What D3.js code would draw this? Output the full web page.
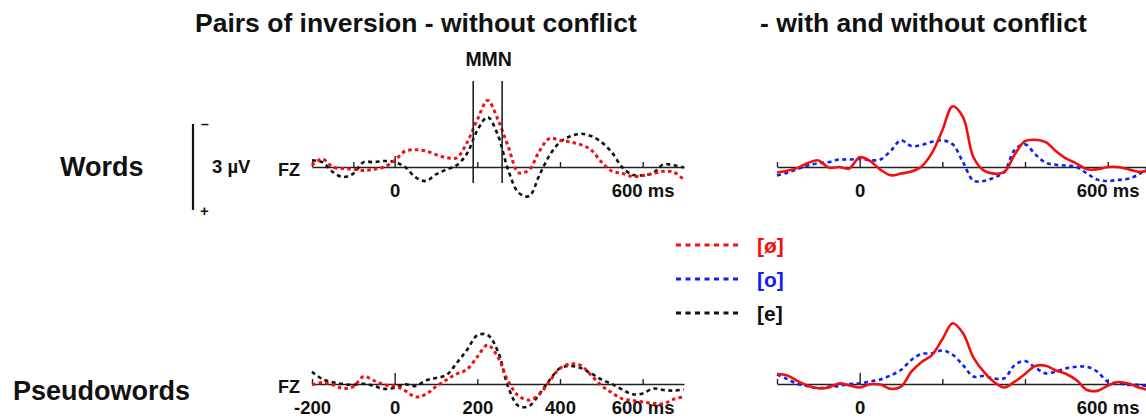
<!DOCTYPE html>
<html>
<head>
<meta charset="utf-8">
<script src="https://cdn.jsdelivr.net/npm/d3@7"></script>
<style>
body { margin: 0; background: #fff; }
svg { display: block; font-family: "Liberation Sans", Arial, sans-serif; font-weight: bold; }
</style>
</head>
<body>
<svg width="1146" height="419"></svg>
<script>
// time points (ms) shared by every waveform
var ms = [-200, -175, -150, -125, -100, -75, -50, -25, 0, 25, 50, 75, 100, 125, 150, 175, 200, 225, 250,
          275, 300, 325, 350, 375, 400, 425, 450, 475, 500, 525, 550, 575, 600, 625, 650, 675, 700];

// amplitudes in µV (negative plotted up)
// Words, pairs of inversion without conflict
var wordsOe = [-0.06, -0.28, 0.0, 0.05, 0.08, 0.12, 0.08, 0.0, -0.23, -0.55, -0.6, -0.56, -0.43, -0.33, -0.32, -0.85, -1.65, -2.32, -1.65,
               -0.7, 0.2, 0.1, -0.55, -1.0, -0.93, -0.87, -0.78, -0.6, -0.18, 0.14, 0.22, 0.33, 0.3, 0.23, 0.15, 0.18, 0.45];
var wordsE = [-0.23, -0.17, 0.17, 0.35, 0.23, -0.17, -0.17, -0.21, -0.17, 0.0, 0.35, 0.49, 0.26, 0.09, -0.06, -0.47, -1.28, -1.74, -1.1,
              0.12, 0.9, 1.02, 0.29, -0.41, -0.87, -1.07, -1.16, -1.08, -0.87, -0.52, 0.0, 0.27, 0.29, 0.21, -0.09, -0.06, 0.02];
// Words, with and without conflict
var wordsConflictOe = [0.19, 0.13, 0.03, -0.14, -0.23, 0.02, 0.0, 0.05, -0.34, -0.21, 0.09, 0.29, 0.23, 0.16, -0.02, -0.49, -1.28, -2.12, -1.74,
                       -0.35, 0.12, 0.23, 0.17, -0.43, -0.9, -0.95, -0.87, -0.55, -0.29, -0.12, 0.08, 0.08, 0.0, 0.0, 0.08, 0.17, 0.12];
var wordsO = [0.3, 0.2, 0.07, -0.05, -0.13, -0.17, -0.26, -0.26, -0.28, -0.24, -0.26, -0.56, -0.93, -0.73, -0.77, -0.88, -0.93, -0.79, -0.17,
              0.47, 0.49, 0.37, 0.17, -0.6, -0.79, -0.44, -0.15, -0.08, -0.05, 0.0, 0.23, 0.44, 0.49, 0.45, 0.41, 0.26, 0.0];
// Pseudowords, pairs of inversion without conflict
var pseudoOe = [0.03, -0.05, 0.03, 0.15, 0.09, -0.26, -0.12, 0.03, 0.07, 0.23, 0.45, 0.36, 0.09, -0.14, -0.35, -0.51, -0.95, -1.36, -0.93,
                -0.08, 0.42, 0.56, 0.36, -0.1, -0.55, -0.7, -0.65, -0.31, 0.05, 0.3, 0.51, 0.57, 0.63, 0.67, 0.69, 0.53, 0.44];
var pseudoE = [-0.43, -0.17, -0.06, 0.0, 0.03, -0.01, 0.07, 0.17, 0.13, 0.01, 0.07, -0.12, -0.21, -0.31, -0.73, -1.19, -1.7, -1.71, -1.13,
               0.12, 0.77, 0.77, 0.35, -0.14, -0.55, -0.63, -0.56, -0.37, -0.16, 0.0, 0.19, 0.36, 0.33, 0.16, 0.21, 0.23, 0.19];
// Pseudowords, with and without conflict
var pseudoConflictOe = [-0.35, -0.3, -0.1, 0.06, 0.15, 0.12, -0.02, 0.05, 0.12, 0.01, 0.02, 0.17, 0.09, -0.43, -0.77, -1.01, -1.56, -2.12, -1.77,
                        -0.93, -0.43, -0.07, 0.12, -0.08, -0.35, -0.63, -0.64, -0.47, -0.35, -0.13, 0.21, 0.24, 0.06, -0.07, -0.02, 0.12, 0.21];
var pseudoO = [-0.33, -0.17, 0.0, 0.08, 0.15, 0.1, 0.07, 0.0, -0.02, -0.09, -0.16, -0.3, -0.49, -0.84, -1.05, -1.07, -1.17, -1.02, -0.66,
               -0.26, -0.28, -0.19, -0.2, -0.66, -0.8, -0.57, -0.37, -0.44, -0.55, -0.6, -0.6, -0.43, -0.08, -0.02, 0.03, 0.03, 0.09];

var legendLabels = ["[ø]", "[o]", "[e]"];
var tickMs = [-200, 0, 200, 400, 600];
var mmnWindow = [190, 260];
var scaleBar = [-1.5, 1.5];

var svg = d3.select("svg");

var xLeft = d3.scaleLinear().domain([-200, 700]).range([312, 684]);
var xRight = d3.scaleLinear().domain([-200, 700]).range([777, 1149]);
var yTop = d3.scaleLinear().domain([-3, 3]).range([81, 253]);
var yBottom = d3.scaleLinear().domain([-3, 3]).range([298, 470]);

var red = "#f01010", blue = "#1020f0", black = "#111";

var styles = {
  oeDot: { color: red, dash: "3.5,3.2", width: 3 },
  eDash: { color: black, dash: "4,3.5", width: 2.6 },
  oeSolid: { color: red, dash: null, width: 2.6 },
  oDash: { color: blue, dash: "4,3.5", width: 2.6 }
};

var panels = [
  { x: xLeft, y: yTop, ticks: [-200, -100, 0, 200, 400, 600], labels: [0, 600], fz: true,
    series: [[wordsE, "eDash"], [wordsOe, "oeDot"]] },
  { x: xRight, y: yTop, ticks: tickMs, labels: [0, 600], fz: false,
    series: [[wordsO, "oDash"], [wordsConflictOe, "oeSolid"]] },
  { x: xLeft, y: yBottom, ticks: tickMs, labels: tickMs, fz: true,
    series: [[pseudoE, "eDash"], [pseudoOe, "oeDot"]] },
  { x: xRight, y: yBottom, ticks: tickMs, labels: [0, 600], fz: false,
    series: [[pseudoO, "oDash"], [pseudoConflictOe, "oeSolid"]] }
];

panels.forEach(function(p) {
  var base = p.y(0);
  var g = svg.append("g");

  // baseline with upward ticks
  var ax = g.append("g")
    .attr("transform", "translate(0," + base + ")")
    .call(d3.axisTop(p.x).tickValues(p.ticks).tickSize(5).tickSizeOuter(0).tickFormat(""));
  ax.select(".domain").attr("stroke", "#222").attr("stroke-width", 1.6);
  ax.selectAll(".tick line").attr("stroke", "#222").attr("stroke-width", 1.4)
    .attr("y2", function(d) { return d === 0 ? -11 : -5; });

  // tick labels under the baseline
  var lab = g.append("g")
    .attr("transform", "translate(0," + base + ")")
    .call(d3.axisBottom(p.x).tickValues(p.labels).tickSize(0).tickPadding(17)
      .tickFormat(function(d) { return d === 600 ? "600 ms" : d; }));
  lab.select(".domain").remove();
  lab.selectAll("text").attr("font-size", 18.5).attr("font-weight", "bold")
    .attr("font-family", "Liberation Sans, Arial, sans-serif").attr("fill", "#111");

  if (p.fz) {
    g.append("text").attr("x", 300).attr("y", base + 9)
      .attr("text-anchor", "end").attr("font-size", 18).attr("fill", "#111").text("FZ");
  }

  var line = d3.line()
    .x(function(d, i) { return p.x(ms[i]); })
    .y(function(d) { return p.y(d); })
    .curve(d3.curveCatmullRom.alpha(0.5));

  p.series.forEach(function(s) {
    var st = styles[s[1]];
    g.append("path").datum(s[0])
      .attr("d", line)
      .attr("fill", "none")
      .attr("stroke", st.color)
      .attr("stroke-width", st.width)
      .attr("stroke-dasharray", st.dash)
      .attr("stroke-linejoin", "round");
  });
});

// MMN window
svg.selectAll(".mmn").data(mmnWindow).enter().append("line")
  .attr("x1", function(d) { return xLeft(d); })
  .attr("x2", function(d) { return xLeft(d); })
  .attr("y1", yTop(-3)).attr("y2", yTop(0.56))
  .attr("stroke", "#222").attr("stroke-width", 1.6);
svg.append("text").attr("x", xLeft(d3.mean(mmnWindow)) + 1).attr("y", 66)
  .attr("text-anchor", "middle").attr("font-size", 19.5).attr("fill", "#111").text("MMN");

// titles
svg.append("text").attr("x", 195).attr("y", 32).attr("font-size", 26.5).attr("fill", "#111")
  .text("Pairs of inversion - without conflict");
svg.append("text").attr("x", 760).attr("y", 32).attr("font-size", 26.5).attr("fill", "#111")
  .text("- with and without conflict");

// row labels
svg.append("text").attr("x", 60).attr("y", 176).attr("font-size", 27).attr("fill", "#111").text("Words");
svg.append("text").attr("x", 13).attr("y", 400).attr("font-size", 27).attr("fill", "#111").text("Pseudowords");

// voltage scale bar
svg.append("line").attr("x1", 193).attr("x2", 193)
  .attr("y1", yTop(scaleBar[0])).attr("y2", yTop(scaleBar[1]))
  .attr("stroke", "#111").attr("stroke-width", 2.2);
svg.append("text").attr("x", 201).attr("y", yTop(scaleBar[0]) + 5).attr("font-size", 14).attr("fill", "#111").text("\u2013");
svg.append("text").attr("x", 200).attr("y", yTop(scaleBar[1]) + 6).attr("font-size", 15).attr("fill", "#111").text("+");
svg.append("text").attr("x", 212).attr("y", 173).attr("font-size", 18.5).attr("fill", "#111").text("3 \u00b5V");

// legend
var legendColors = [red, blue, black];
var leg = svg.selectAll(".leg").data(legendLabels).enter().append("g")
  .attr("transform", function(d, i) { return "translate(676," + (245 + i * 34) + ")"; });
leg.append("line").attr("x1", 0).attr("x2", 64).attr("y1", 0).attr("y2", 0)
  .attr("stroke", function(d, i) { return legendColors[i]; })
  .attr("stroke-width", 3).attr("stroke-dasharray", "5,4.5");
leg.append("text").attr("x", 81).attr("y", 8).attr("font-size", 21)
  .attr("fill", function(d, i) { return legendColors[i]; }).text(function(d) { return d; });
</script>
</body>
</html>
